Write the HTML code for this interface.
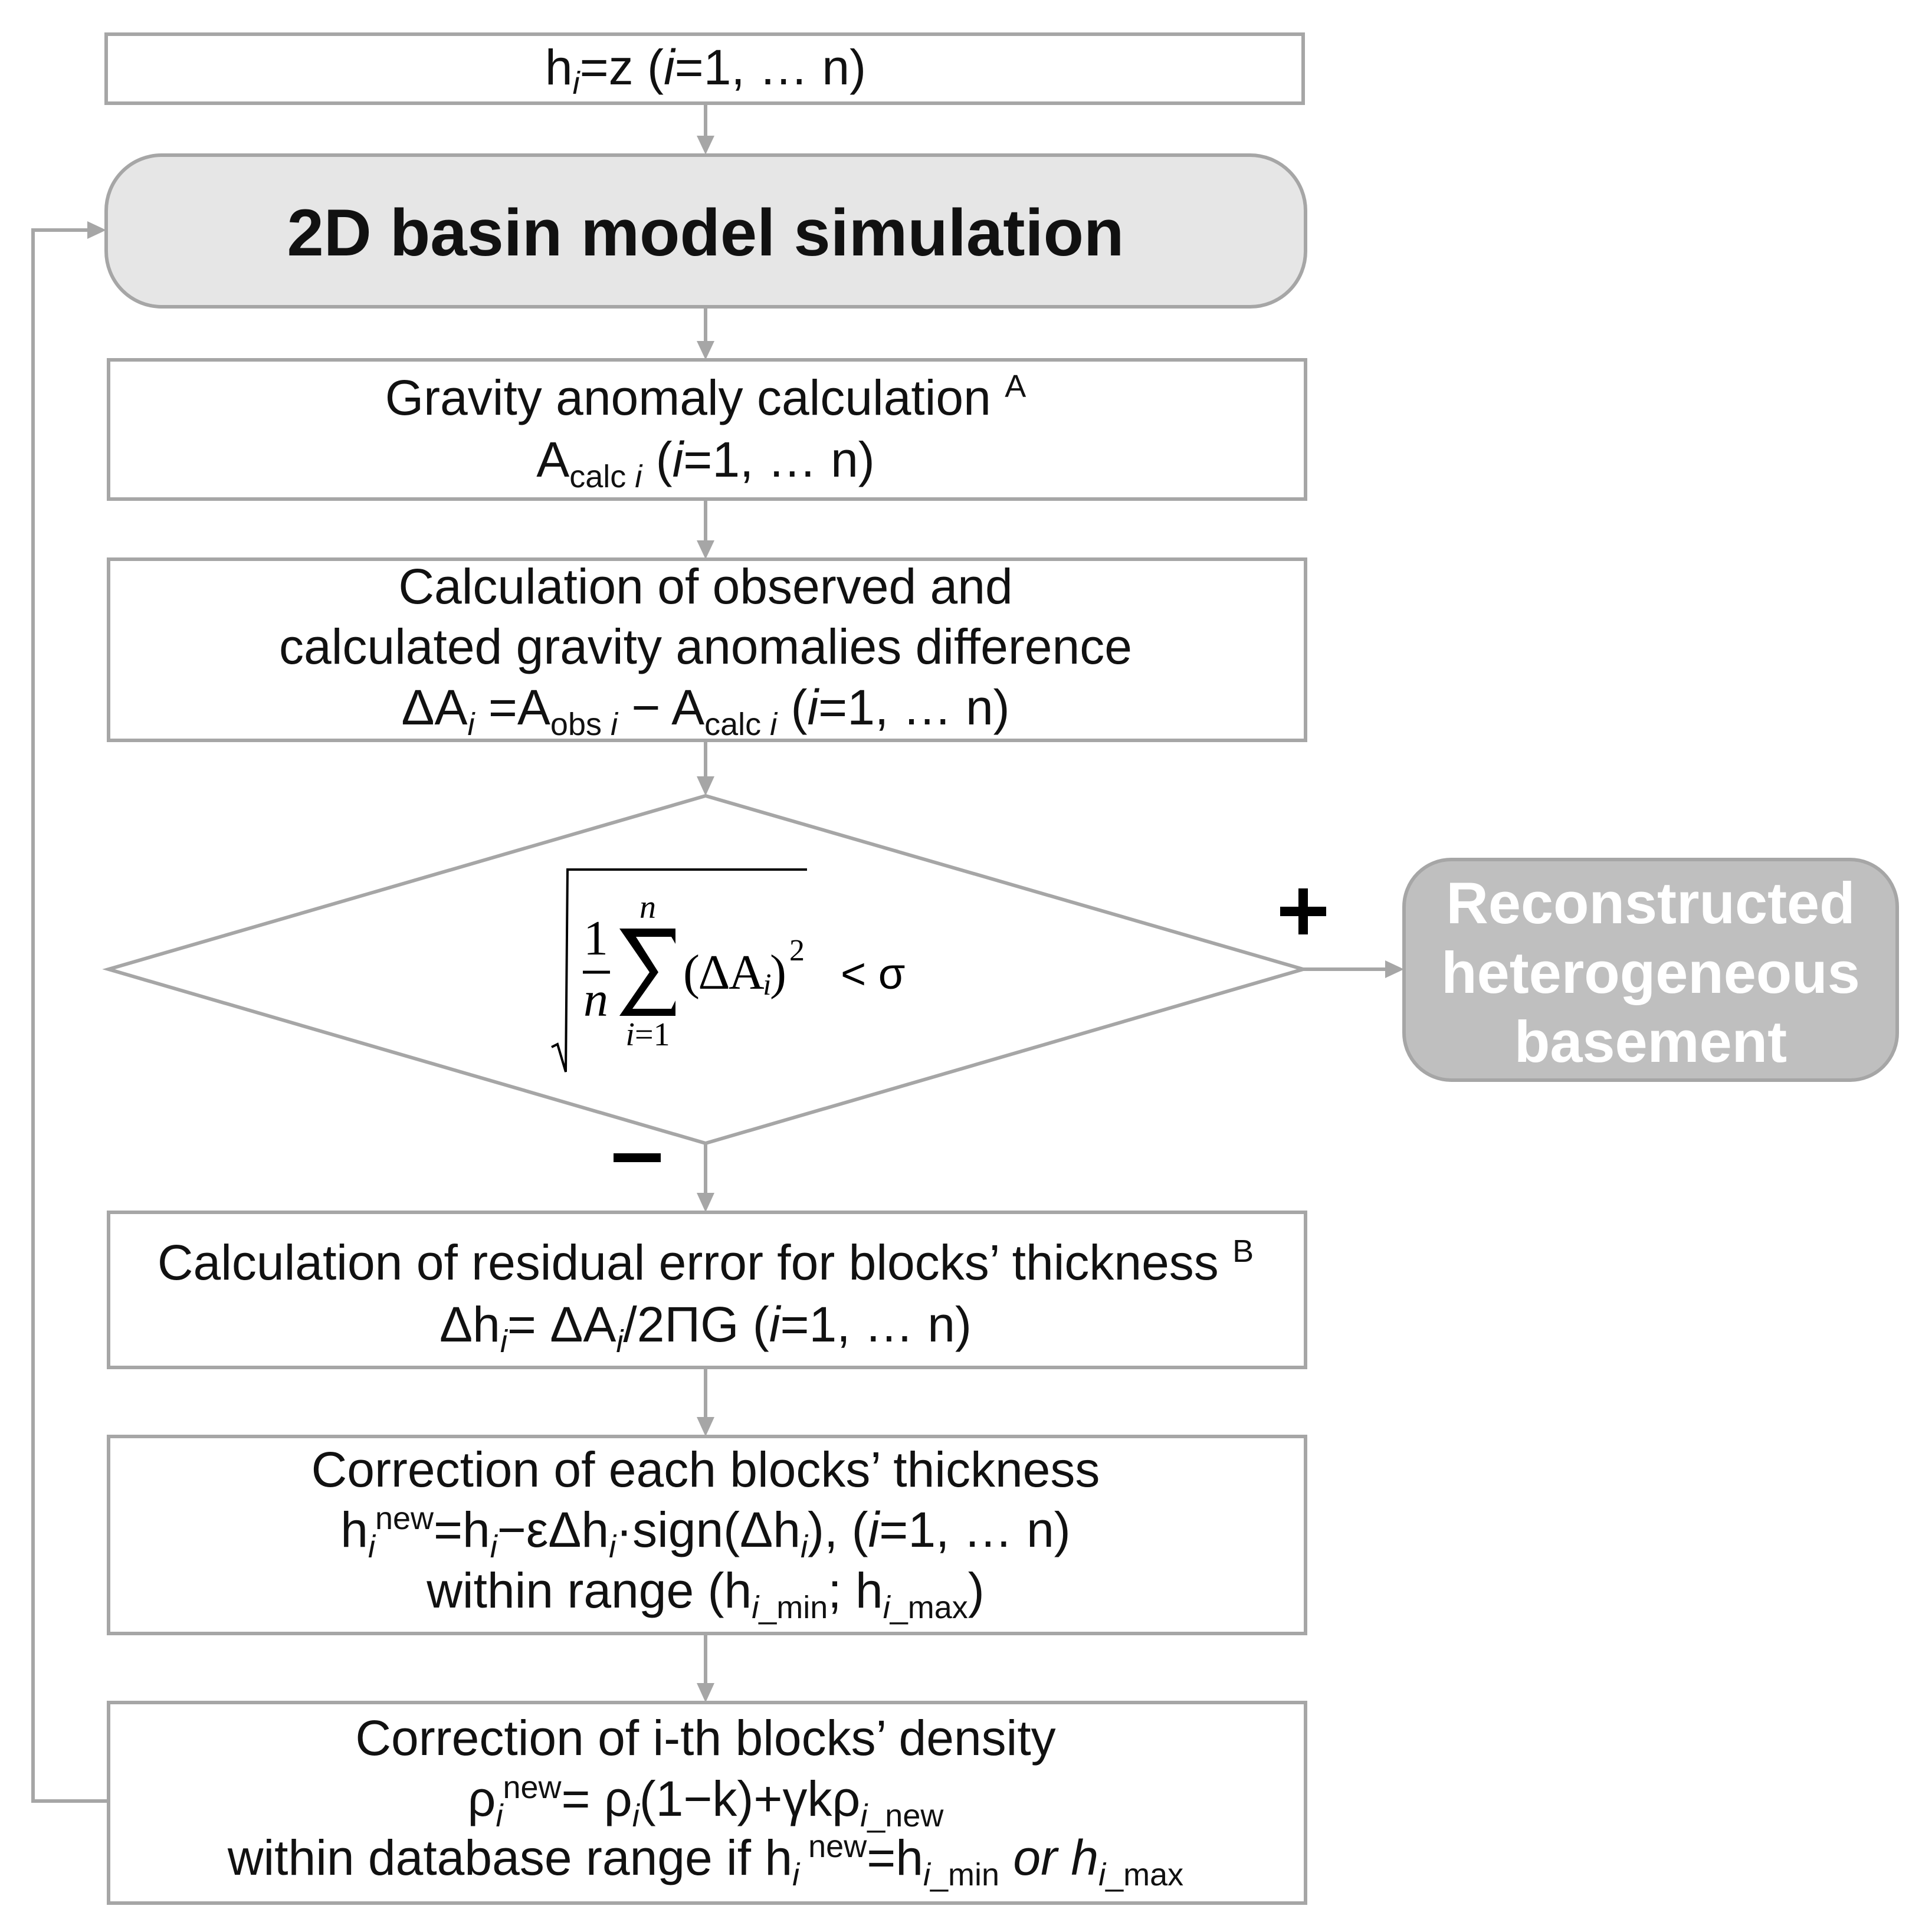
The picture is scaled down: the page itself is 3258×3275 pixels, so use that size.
<!DOCTYPE html>
<html><head><meta charset="utf-8"><style>
html,body{margin:0;padding:0;background:#fff;}
svg{display:block;}
.t{font-family:"Liberation Sans",Arial,sans-serif;font-size:84px;fill:#111;}
.s{font-size:54px;}
.m{font-family:"Liberation Serif","DejaVu Serif",serif;fill:#000;}
</style></head><body>
<svg width="3258" height="3275" viewBox="0 0 3258 3275" xmlns="http://www.w3.org/2000/svg">
<g stroke="#a6a6a6" stroke-width="6" fill="none">
<rect x="180" y="58" width="2029" height="117" fill="#fff"/>
<rect x="180" y="263" width="2033" height="257" rx="94" fill="#e6e6e6"/>
<rect x="184" y="610" width="2029" height="236" fill="#fff"/>
<rect x="184" y="948" width="2029" height="307" fill="#fff"/>
<polygon points="184,1643 1196,1349 2209,1643 1196,1938" fill="#fff"/>
<rect x="2380" y="1457" width="836" height="374" rx="80" fill="#bfbfbf"/>
<rect x="184" y="2055" width="2029" height="263" fill="#fff"/>
<rect x="184" y="2435" width="2029" height="334" fill="#fff"/>
<rect x="184" y="2886" width="2029" height="340" fill="#fff"/>
<line x1="1196" y1="175" x2="1196" y2="232"/>
<line x1="1196" y1="520" x2="1196" y2="580"/>
<line x1="1196" y1="846" x2="1196" y2="918"/>
<line x1="1196" y1="1255" x2="1196" y2="1318"/>
<line x1="1196" y1="1938" x2="1196" y2="2024"/>
<line x1="1196" y1="2318" x2="1196" y2="2404"/>
<line x1="1196" y1="2769" x2="1196" y2="2855"/>
<line x1="2209" y1="1643" x2="2350" y2="1643"/>
<polyline points="184,3053 56,3053 56,390 150,390"/>
</g>
<g fill="#a6a6a6">
<polygon points="1181,230 1211,230 1196,262"/>
<polygon points="1181,578 1211,578 1196,610"/>
<polygon points="1181,916 1211,916 1196,948"/>
<polygon points="1181,1316 1211,1316 1196,1349"/>
<polygon points="1181,2022 1211,2022 1196,2055"/>
<polygon points="1181,2402 1211,2402 1196,2435"/>
<polygon points="1181,2853 1211,2853 1196,2886"/>
<polygon points="2348,1628 2348,1658 2380,1643"/>
<polygon points="148,375 148,405 180,390"/>
</g>
<g class="t" text-anchor="middle">
<text x="1196" y="143">h<tspan class="s" dy="16" font-style="italic">i</tspan><tspan dy="-16">=z (</tspan><tspan font-style="italic">i</tspan>=1, … n)</text>
<text x="1196" y="433" font-weight="bold" font-size="112">2D basin model simulation</text>
<text x="1196" y="703">Gravity anomaly calculation <tspan class="s" dy="-30">A</tspan></text>
<text x="1196" y="808">A<tspan class="s" dy="18">calc <tspan font-style="italic">i</tspan></tspan><tspan dy="-18"> (</tspan><tspan font-style="italic">i</tspan>=1, … n)</text>
<text x="1196" y="1023">Calculation of observed and</text>
<text x="1196" y="1125">calculated gravity anomalies difference</text>
<text x="1196" y="1228">ΔA<tspan class="s" dy="18" font-style="italic">i</tspan><tspan dy="-18"> =A</tspan><tspan class="s" dy="18">obs <tspan font-style="italic">i</tspan></tspan><tspan dy="-18"> − A</tspan><tspan class="s" dy="18">calc <tspan font-style="italic">i</tspan></tspan><tspan dy="-18"> (</tspan><tspan font-style="italic">i</tspan>=1, … n)</text>
<text x="1196" y="2169">Calculation of residual error for  blocks’ thickness <tspan class="s" dy="-30">B</tspan></text>
<text x="1196" y="2274">Δh<tspan class="s" dy="18" font-style="italic">i</tspan><tspan dy="-18">= ΔA</tspan><tspan class="s" dy="18" font-style="italic">i</tspan><tspan dy="-18">/2ΠG (</tspan><tspan font-style="italic">i</tspan>=1, … n)</text>
<text x="1196" y="2520">Correction of each blocks’ thickness</text>
<text x="1196" y="2622">h<tspan class="s" dy="18" font-style="italic">i</tspan><tspan class="s" dy="-48">new</tspan><tspan dy="30">=h</tspan><tspan class="s" dy="18" font-style="italic">i</tspan><tspan dy="-18">−εΔh</tspan><tspan class="s" dy="18" font-style="italic">i</tspan><tspan dy="-18">·sign(Δh</tspan><tspan class="s" dy="18" font-style="italic">i</tspan><tspan dy="-18">), (</tspan><tspan font-style="italic">i</tspan>=1, … n)</text>
<text x="1196" y="2725">within range (h<tspan class="s" dy="18"><tspan font-style="italic">i</tspan>_min</tspan><tspan dy="-18">; h</tspan><tspan class="s" dy="18"><tspan font-style="italic">i</tspan>_max</tspan><tspan dy="-18">)</tspan></text>
<text x="1196" y="2975">Correction of i-th blocks’ density</text>
<text x="1196" y="3078">ρ<tspan class="s" dy="18" font-style="italic">i</tspan><tspan class="s" dy="-48">new</tspan><tspan dy="30">= ρ</tspan><tspan class="s" dy="18" font-style="italic">i</tspan><tspan dy="-18">(1−k)+γkρ</tspan><tspan class="s" dy="18"><tspan font-style="italic">i</tspan>_new</tspan></text>
<text x="1196" y="3178">within database range if h<tspan class="s" dy="18" font-style="italic">i</tspan><tspan class="s" dy="-48"> new</tspan><tspan dy="30">=h</tspan><tspan class="s" dy="18"><tspan font-style="italic">i</tspan>_min</tspan><tspan dy="-18" font-style="italic"> or h</tspan><tspan class="s" dy="18"><tspan font-style="italic">i</tspan>_max</tspan></text>
<g font-weight="bold" fill="#fff" font-size="99">
<text x="2798" y="1565">Reconstructed</text>
<text x="2798" y="1683">heterogeneous</text>
<text x="2798" y="1800">basement</text>
</g>
</g>
<rect x="2170" y="1537" width="78" height="16" fill="#000"/>
<rect x="2201" y="1506" width="16" height="78" fill="#000"/>
<rect x="1040" y="1955" width="80" height="15" fill="#000"/>
<polyline points="935,1775 945,1770 959,1817 962,1474 1368,1474" stroke="#000" stroke-width="4" fill="none"/>
<g class="m">
<text x="1010" y="1618" font-size="84" text-anchor="middle">1</text>
<line x1="988" y1="1648" x2="1034" y2="1648" stroke="#000" stroke-width="5"/>
<text x="1010" y="1722" font-size="84" font-style="italic" text-anchor="middle">n</text>
<polygon points="1050,1574 1145,1574 1145,1600 1138,1588 1078,1588 1116,1648 1072,1710 1138,1710 1145,1696 1145,1722 1050,1722 1101,1648" fill="#000"/>
<text x="1098" y="1556" font-size="56" font-style="italic" text-anchor="middle">n</text>
<text x="1098" y="1772" font-size="56" text-anchor="middle"><tspan font-style="italic">i</tspan>=1</text>
<text x="1158" y="1676" font-size="84" textLength="175">(ΔA<tspan font-size="52" font-style="italic" dy="10">i</tspan><tspan dy="-10">)</tspan></text>
<text x="1338" y="1628" font-size="52">2</text>
</g>
<text x="1425" y="1676" font-family="Liberation Sans,sans-serif" font-size="74">&lt; σ</text>
</svg>
</body></html>
